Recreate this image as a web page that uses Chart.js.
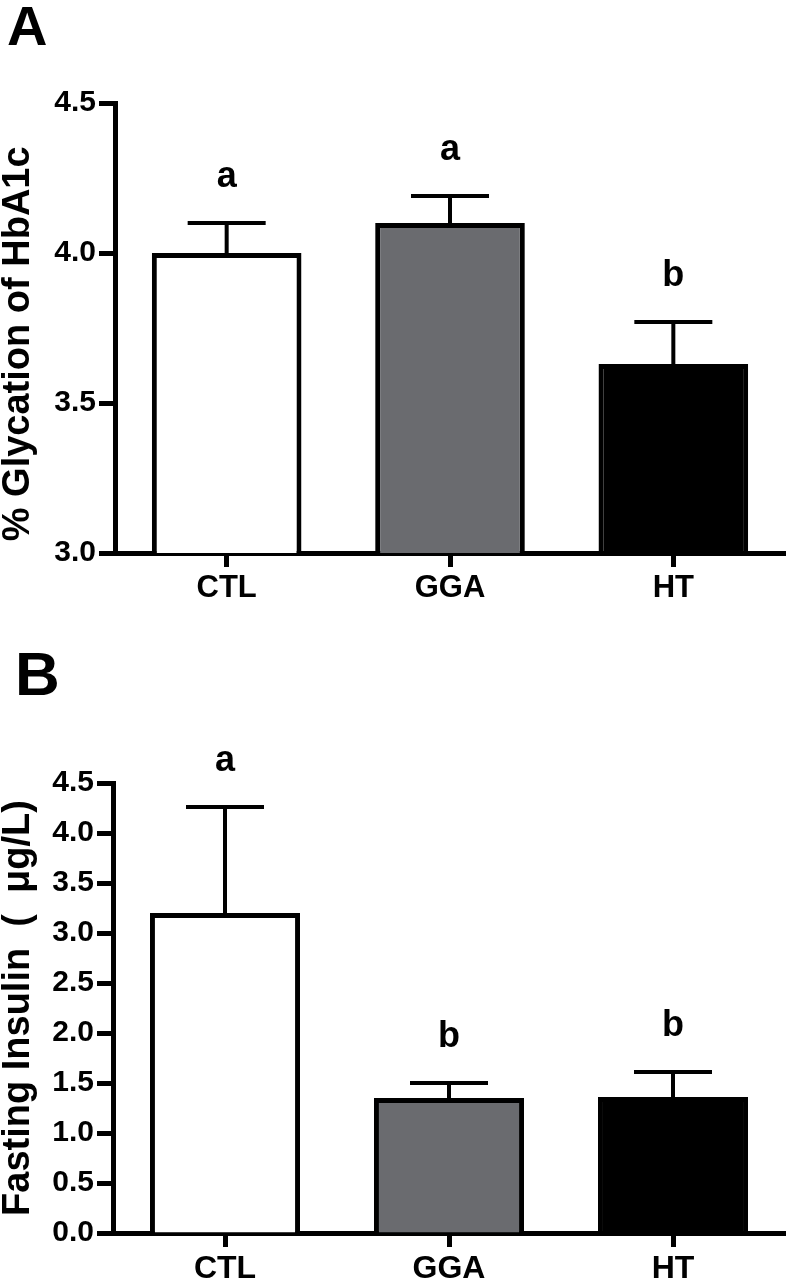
<!DOCTYPE html>
<html>
<head>
<meta charset="utf-8">
<script src="https://cdn.jsdelivr.net/npm/chart.js@4"></script>
<style>
  body { margin: 0; background: #fff; }
  canvas { position: absolute; left: 0; }
</style>
</head>
<body>
<canvas id="chartA" width="786" height="620" style="top:0"></canvas>
<canvas id="chartB" width="786" height="660" style="top:620px"></canvas>
<script>
const groups = ['CTL', 'GGA', 'HT'];
const barColors = ['#ffffff', '#6a6b6f', '#000000'];

const hba1c = [4.00, 4.10, 3.63];
const hba1cSem = [0.10, 0.09, 0.14];
const hba1cLetters = ['a', 'a', 'b'];

const insulin = [3.20, 1.35, 1.36];
const insulinSem = [1.06, 0.15, 0.25];
const insulinLetters = ['a', 'b', 'b'];

const FONT = '"Liberation Sans", Arial, sans-serif';

const errorBars = {
  id: 'errorBars',
  afterDatasetsDraw(chart, args, opts) {
    const ctx = chart.ctx;
    const meta = chart.getDatasetMeta(0);
    const yScale = chart.scales.y;
    const values = chart.data.datasets[0].data;
    ctx.save();
    ctx.strokeStyle = '#000';
    ctx.fillStyle = '#000';
    ctx.lineWidth = 4;
    meta.data.forEach((bar, i) => {
      const top = yScale.getPixelForValue(values[i] + opts.sem[i]);
      ctx.beginPath();
      ctx.moveTo(bar.x, bar.y);
      ctx.lineTo(bar.x, top);
      ctx.moveTo(bar.x - 39, top);
      ctx.lineTo(bar.x + 39, top);
      ctx.stroke();
      ctx.font = 'bold 36px ' + FONT;
      ctx.textAlign = 'center';
      ctx.textBaseline = 'alphabetic';
      ctx.fillText(opts.letters[i], bar.x, top - 36);
    });
    ctx.restore();
  }
};

const panelLabel = {
  id: 'panelLabel',
  afterDraw(chart, args, opts) {
    const ctx = chart.ctx;
    ctx.save();
    ctx.fillStyle = '#000';
    ctx.font = 'bold ' + opts.size + 'px ' + FONT;
    ctx.textAlign = 'left';
    ctx.textBaseline = 'alphabetic';
    ctx.fillText(opts.text, opts.x, opts.y);
    ctx.restore();
  }
};

function makeChart(id, cfg) {
  const ctx = document.getElementById(id).getContext('2d');
  return new Chart(ctx, {
    type: 'bar',
    data: {
      labels: groups,
      datasets: [{
        data: cfg.values,
        backgroundColor: barColors,
        borderColor: '#000',
        borderWidth: 5,
        borderSkipped: 'start',
        barPercentage: 0.67,
        categoryPercentage: 1.0
      }]
    },
    options: {
      responsive: false,
      animation: false,
      layout: { padding: { top: cfg.top, right: 1, left: 0, bottom: 0 } },
      plugins: {
        legend: { display: false },
        tooltip: { enabled: false },
        errorBars: { sem: cfg.sem, letters: cfg.letters },
        panelLabel: cfg.panel
      },
      scales: {
        x: {
          offset: true,
          afterFit: s => { s.height = cfg.xHeight; },
          border: { display: true, color: '#000', width: 5 },
          grid: {
            offset: false,
            drawOnChartArea: false,
            drawTicks: true,
            tickLength: 14,
            tickWidth: 5,
            tickColor: '#000'
          },
          ticks: {
            color: '#000',
            padding: 3,
            font: { family: FONT, size: cfg.xFont, weight: 'bold' }
          }
        },
        y: {
          min: cfg.min,
          max: cfg.max,
          afterFit: s => { s.width = cfg.left; },
          border: { display: true, color: '#000', width: 5 },
          grid: {
            drawOnChartArea: false,
            drawTicks: true,
            tickLength: 16,
            tickWidth: 5,
            tickColor: '#000'
          },
          ticks: {
            stepSize: 0.5,
            color: '#000',
            padding: 3,
            font: { family: FONT, size: 30, weight: 'bold' },
            callback: v => Number(v).toFixed(1)
          },
          title: {
            display: true,
            text: cfg.title,
            color: '#000',
            padding: 0,
            font: { family: FONT, size: 38, weight: 'bold', lineHeight: 1 }
          }
        }
      }
    },
    plugins: [errorBars, panelLabel]
  });
}

makeChart('chartA', {
  values: hba1c,
  sem: hba1cSem,
  letters: hba1cLetters,
  min: 3.0,
  max: 4.5,
  top: 103,
  left: 115,
  xHeight: 67,
  xFont: 31,
  title: '% Glycation of HbA1c\u00a0\u00a0\u00a0',
  panel: { text: 'A', x: 7, y: 45, size: 56 }
});

makeChart('chartB', {
  values: insulin,
  sem: insulinSem,
  letters: insulinLetters,
  min: 0,
  max: 4.5,
  top: 163,
  left: 113,
  xHeight: 47,
  xFont: 32,
  title: 'Fasting Insulin \u00a0(\u00a0 \u03bcg/L)',
  panel: { text: 'B', x: 15, y: 75, size: 62 }
});
</script>
</body>
</html>
